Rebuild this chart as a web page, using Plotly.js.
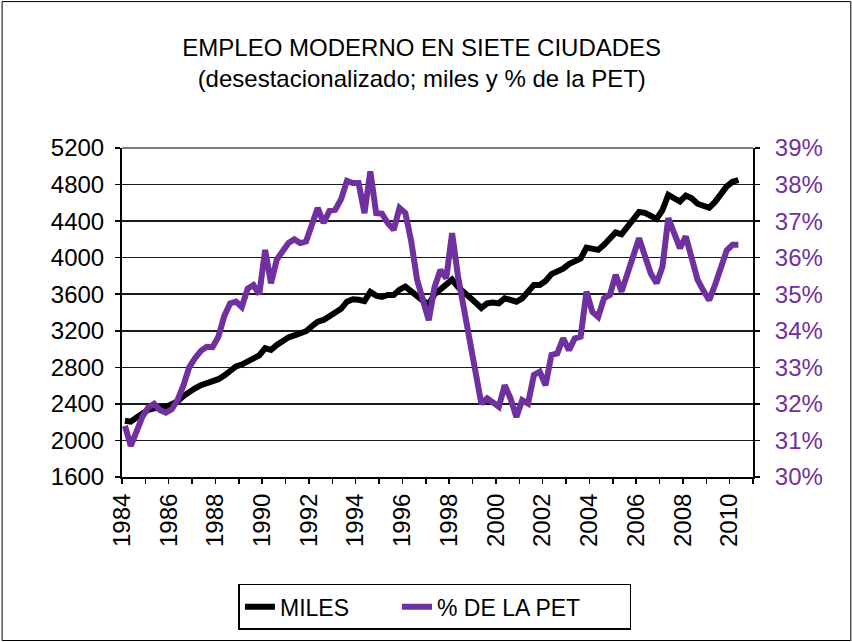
<!DOCTYPE html>
<html><head><meta charset="utf-8">
<script src="https://cdn.plot.ly/plotly-3.0.1.min.js"></script>
<style>html,body{margin:0;padding:0;background:#fff}#chart{width:852px;height:642px}</style>
</head><body><div id="chart"></div>
<script>
// Quarterly data, 1984-I ... 2010-II
const FIRST_YEAR = 1984;
const miles = [
 2215,2205,2250,2300, 2335,2352,2360,2368, 2395,2430,2485,2535, 2570,2605,2625,2635,
 2670,2710,2760,2810, 2830,2865,2900,2930, 3010,2990,3044,3095, 3128,3150,3170,3195,
 3250,3300,3318,3365, 3409,3440,3518,3545, 3540,3525,3625,3585, 3570,3592,3592,3650,
 3683,3640,3580,3530, 3490,3600,3650,3700, 3760,3680,3628,3580, 3510,3450,3500,3508,
 3500,3556,3540,3518, 3555,3620,3701,3701, 3745,3820,3850,3880, 3930,3960,3990,4110,
 4100,4085,4140,4200, 4275,4255,4340,4420, 4500,4490,4465,4425, 4520,4688,4650,4615,
 4680,4650,4590,4565, 4545,4610,4695,4780, 4830,4850
];
const pctPET = [
 31.40,30.85,31.25,31.65, 31.90,32.00,31.83,31.76, 31.85,32.10,32.50,33.00, 33.25,33.45,33.56,33.55,
 33.84,34.40,34.75,34.80, 34.65,35.15,35.25,35.00, 36.21,35.30,35.95,36.20, 36.40,36.50,36.40,36.44,
 36.90,37.36,36.95,37.28, 37.31,37.60,38.10,38.04, 38.04,37.22,38.36,37.22, 37.20,36.94,36.76,37.36,
 37.22,36.45,35.40,34.80, 34.29,35.20,35.66,35.44, 36.67,35.50,34.60,33.80, 33.00,32.01,32.15,32.05,
 31.92,32.51,32.15,31.64, 32.10,32.01,32.79,32.88, 32.51,33.34,33.38,33.79, 33.47,33.79,33.84,35.07,
 34.52,34.38,34.89,34.98, 35.53,35.07,35.60,36.10, 36.53,36.05,35.57,35.30, 35.75,37.08,36.70,36.26,
 36.58,36.00,35.40,35.10, 34.84,35.25,35.75,36.20, 36.35,36.35
];
const yearLabels = [1984,1986,1988,1990,1992,1994,1996,1998,2000,2002,2004,2006,2008,2010];
const leftTicks = [1600,2000,2400,2800,3200,3600,4000,4400,4800,5200];
const rightTicks = [30,31,32,33,34,35,36,37,38,39];
const seriesNames = ['MILES', '% DE LA PET'];
const titleText = 'EMPLEO MODERNO EN SIETE CIUDADES<br>(desestacionalizado; miles y % de la PET)';

const xq = miles.map((_, i) => FIRST_YEAR + (i + 0.5) / 4);
const FONT = 'Liberation Sans, Arial, sans-serif';
const PURPLE = '#7030A0';

const traces = [
  {x: xq, y: miles, name: seriesNames[0], type: 'scatter', mode: 'lines',
   line: {color: '#000000', width: 6}, yaxis: 'y', legendwidth: 112},
  {x: xq, y: pctPET, name: seriesNames[1], type: 'scatter', mode: 'lines',
   line: {color: PURPLE, width: 6}, yaxis: 'y2', legendwidth: 188}
];

const layout = {
  width: 852, height: 642,
  margin: {l: 122, r: 99, t: 148, b: 165, pad: 0},
  paper_bgcolor: '#ffffff', plot_bgcolor: '#ffffff',
  font: {family: FONT, color: '#000', size: 24},
  title: {text: titleText, font: {family: FONT, size: 24, color: '#000'},
          x: 0.495, xanchor: 'center', y: 0.913, yanchor: 'top'},
  showlegend: true,
  legend: {orientation: 'h', x: 0.496, xanchor: 'center', y: -0.325, yanchor: 'top',
           bordercolor: '#000', borderwidth: 1.5, font: {family: FONT, size: 23, color: '#000'},
           bgcolor: '#fff'},
  xaxis: {
    range: [1984, 2011], tickmode: 'array', tickvals: yearLabels,
    ticktext: yearLabels.map(String), tickangle: -90,
    ticks: 'outside', ticklen: 5, tickwidth: 1.5, tickcolor: '#000',
    showline: true, linecolor: '#000', linewidth: 2, showgrid: false, zeroline: false,
    tickfont: {family: FONT, size: 24, color: '#000'},
    minor: {tickmode: 'linear', tick0: 1984, dtick: 1, ticks: 'outside', ticklen: 5, tickwidth: 1.5, tickcolor: '#000', showgrid: false}
  },
  yaxis: {
    range: [1600, 5200], tickmode: 'array', tickvals: leftTicks, ticktext: leftTicks.map(String),
    ticks: 'outside', ticklen: 5, tickwidth: 1.5, tickcolor: '#000', ticklabelstandoff: 6,
    showline: true, linecolor: '#000', linewidth: 2,
    showgrid: true, gridcolor: '#1a1a1a', gridwidth: 1.5, zeroline: false,
    tickfont: {family: FONT, size: 24, color: '#000'}
  },
  yaxis2: {
    overlaying: 'y', side: 'right', range: [30, 39], tickmode: 'array',
    tickvals: rightTicks, ticktext: rightTicks.map(v => v + '%'),
    ticks: 'outside', ticklen: 5, tickwidth: 1.5, tickcolor: '#000', ticklabelstandoff: 10,
    showline: true, linecolor: '#000', linewidth: 2, showgrid: false, zeroline: false,
    tickfont: {family: FONT, size: 24, color: PURPLE}
  },
  shapes: [
    {type: 'line', xref: 'paper', yref: 'paper', x0: 0, x1: 1, y0: 1, y1: 1,
     line: {color: '#808080', width: 2}},
    {type: 'rect', xref: 'paper', yref: 'paper', x0: -0.19, x1: 1.155, y0: -0.497, y1: 1.445,
     line: {color: '#000', width: 1}, layer: 'below'}
  ]
};

Plotly.newPlot('chart', traces, layout, {displayModeBar: false, staticPlot: true});
</script>
</body></html>
